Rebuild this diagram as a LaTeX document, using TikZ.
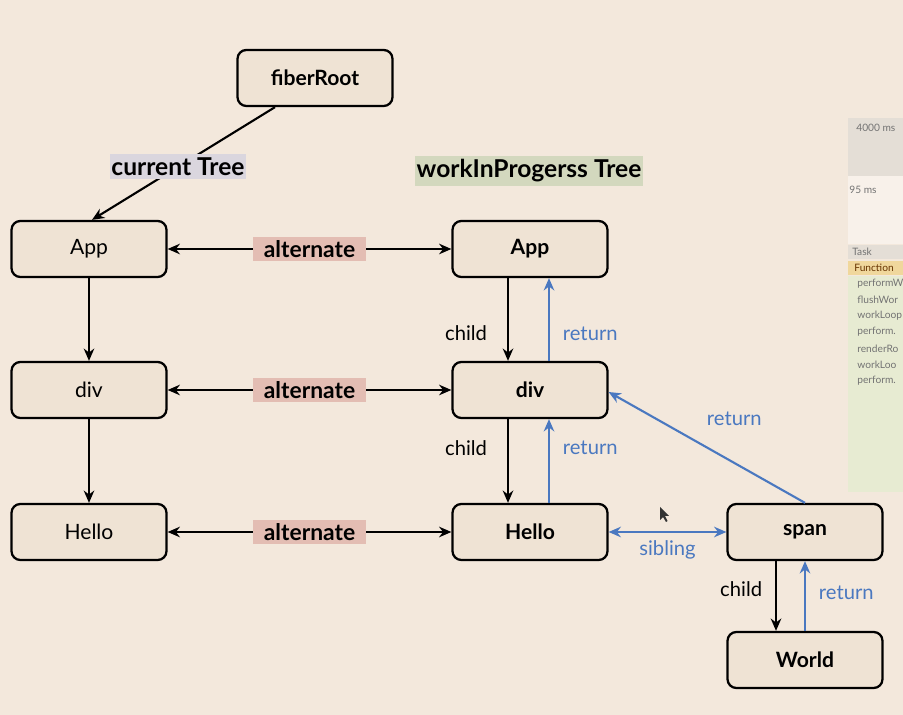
\documentclass[tikz,border=0pt]{standalone}
\usepackage{fontspec}
\setmainfont{Lato}
\usepackage{xcolor}
\usepackage{tikz}
\usetikzlibrary{positioning, arrows.meta}

\definecolor{paper}{HTML}{F3E8DC}
\definecolor{boxfill}{HTML}{EFE3D4}
\definecolor{curtag}{HTML}{DAD6DE}
\definecolor{wiptag}{HTML}{D3D8BE}
\definecolor{alttag}{HTML}{E3BDB3}
\definecolor{retblue}{HTML}{4A78C0}
\definecolor{panelgray}{HTML}{E4DED6}
\definecolor{panelgreen}{HTML}{E7EBD2}
\definecolor{panelorange}{HTML}{F0D79C}

\tikzset{
    box/.style={draw, line width=1.3pt, rounded corners=5pt, fill=boxfill,
        minimum width=3.1cm, minimum height=1.12cm, font=\fontsize{12}{14}\selectfont\bfseries},
    oldbox/.style={box, font=\fontsize{12}{14}\selectfont},
    tag/.style={inner xsep=1pt, inner ysep=2pt, font=\fontsize{14}{16}\selectfont\bfseries},
    alt/.style={fill=alttag, inner xsep=6pt, inner ysep=2pt, font=\fontsize{13}{15}\selectfont\bfseries},
    link/.style={line width=1.2pt, -{Stealth[length=7pt,width=6pt]}},
    ret/.style={link, retblue},
    lbl/.style={font=\fontsize{11.5}{13}\selectfont},
    retlbl/.style={lbl, text=retblue},
    paneltxt/.style={font=\fontsize{5.8}{7}\selectfont, text=black!55, inner sep=0pt, anchor=west}
}

\begin{document}
\begin{tikzpicture}[x=0.02cm, y=-0.02cm]
    \fill[paper] (0,0) rectangle (903,715);
    \useasboundingbox (0,0) rectangle (903,715);

    % devtools panel at the right edge
    \fill[panelgray] (848,118) rectangle (903,176);
    \fill[paper!60!white] (848,176) rectangle (903,244);
    \node[paneltxt] at (856,128) {4000 ms};
    \node[paneltxt] at (849,190) {95 ms};
    \fill[panelgray] (848,245) rectangle (903,259);
    \node[paneltxt] at (852,252) {Task};
    \fill[panelorange] (848,261) rectangle (903,275);
    \node[paneltxt, text=black!60!orange] at (854,268) {Function};
    \fill[panelgreen] (848,276) rectangle (903,492);
    \foreach \y/\t in {284/performW, 300/flushWor, 316/workLoop,
            332/perform., 349/renderRo, 365/workLoo, 381/perform.} {
        \node[paneltxt] at (857,\y) {\t};
    }

    % current tree
    \node[box] (fiberRoot) at (315,78) {fiberRoot};
    \node[oldbox] (curApp) at (89,249) {App};
    \node[oldbox] (curDiv) at (89,390) {div};
    \node[oldbox] (curHello) at (89,532) {Hello};

    % work in progress tree
    \node[box] (wipApp) at (530,249) {App};
    \node[box] (wipDiv) at (530,390) {div};
    \node[box] (wipHello) at (530,532) {Hello};
    \node[box] (wipSpan) at (805,532) {span};
    \node[box] (wipWorld) at (805,660) {World};

    \node[tag, fill=wiptag] (wipTag) at (529,171) {workInProgerss Tree};

    \draw[link] ([xshift=-0.8cm]fiberRoot.south) --
        node[tag, fill=curtag, pos=0.53] (curTag) {current Tree} ([xshift=0.06cm]curApp.north);

    \foreach \a/\b in {curApp/curDiv, curDiv/curHello} {
        \draw[link] (\a) -- (\b);
    }
    \foreach \a/\b in {curApp/wipApp, curDiv/wipDiv, curHello/wipHello} {
        \draw[link, {Stealth[length=7pt,width=6pt]}-{Stealth[length=7pt,width=6pt]}]
            (\a) -- node[alt] {alternate} (\b);
    }

    % child / return links
    \foreach \a/\b/\pc/\pr in {wipApp/wipDiv/0.66/0.33, wipDiv/wipHello/0.35/0.66} {
        \draw[link] ([xshift=-0.44cm]\a.south) --
            node[lbl, left=8pt, pos=\pc] {child} ([xshift=-0.44cm]\b.north);
        \draw[ret] ([xshift=0.38cm]\b.north) --
            node[retlbl, right=4pt, pos=\pr] {return} ([xshift=0.38cm]\a.south);
    }
    \draw[link] ([xshift=-0.58cm]wipSpan.south) --
        node[lbl, left=4pt, pos=0.4] {child} ([xshift=-0.58cm]wipWorld.north);
    \draw[ret] (wipWorld.north) --
        node[retlbl, right=4pt, pos=0.55] {return} (wipSpan.south);
    \draw[ret] (wipSpan.north) --
        node[retlbl, pos=0.36, above=0.6cm] {return} ([yshift=-0.04cm]wipDiv.east);
    \draw[ret, {Stealth[length=7pt,width=6pt]}-{Stealth[length=7pt,width=6pt]}]
        (wipHello.east) -- node[retlbl, below=1pt] {sibling} (wipSpan.west);

    % mouse pointer
    \fill[black!80] (660,507) -- (660,520) -- (663,517) -- (666,522) -- (667.5,521)
        -- (665,516) -- (669,516) -- cycle;
\end{tikzpicture}
\end{document}
